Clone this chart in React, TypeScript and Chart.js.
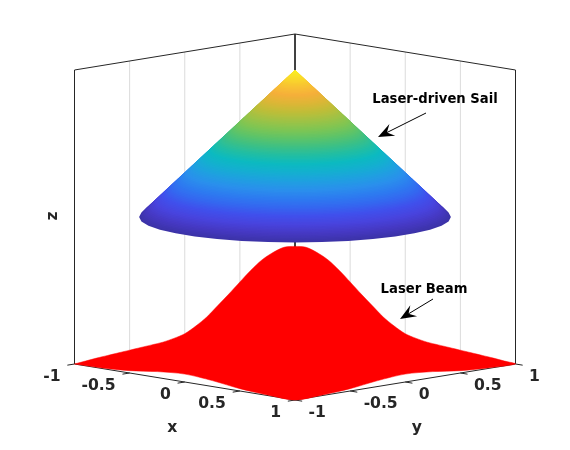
import React, { useEffect, useRef } from "react";
import { Chart, registerables } from "chart.js";

Chart.register(...registerables);

// ---- axis ticks ----
const xTicks = [-1, -0.5, 0, 0.5, 1];
const yTicks = [-1, -0.5, 0, 0.5, 1];
const xGridTicks = [-0.5, 0, 0.5];
const yGridTicks = [-0.5, 0, 0.5];

// ---- laser beam: upper outline, read along the x = y diagonal ----
const beamRidgeAcross = [-2, -1.9, -1.8, -1.7, -1.6, -1.5, -1.4, -1.3, -1.2, -1.1, -1, -0.9, -0.8, -0.7, -0.6, -0.5, -0.4, -0.3, -0.2, -0.1, 0, 0.1, 0.2, 0.3, 0.4, 0.5, 0.6, 0.7, 0.8, 0.9, 1, 1.1, 1.2, 1.3, 1.4, 1.5, 1.6, 1.7, 1.8, 1.9, 2];
const beamRidgeHeight = [0, 0.01, 0.02, 0.029, 0.038, 0.047, 0.056, 0.065, 0.074, 0.087, 0.103, 0.129, 0.16, 0.199, 0.238, 0.279, 0.319, 0.354, 0.379, 0.397, 0.4, 0.397, 0.379, 0.354, 0.319, 0.279, 0.238, 0.199, 0.16, 0.129, 0.103, 0.087, 0.074, 0.065, 0.056, 0.047, 0.038, 0.029, 0.02, 0.01, 0];

// ---- laser beam: height along the two front edges ----
const beamEdgeAlong = [-1, -0.75, -0.5, -0.25, 0, 0.25, 0.5, 0.75, 1];
const beamEdgeHeight = [0, 0.002, 0.008, 0.02, 0.027, 0.02, 0.008, 0.002, 0];

// ---- sail: cone, apex at top and rim at lower height ----
const sailApexZ = 1;
const sailRimZ = 0.5;
const sailRimX = [-0.819, -0.707, -0.574, -0.423, -0.259, -0.087, 0.087, 0.259, 0.423, 0.574, 0.707, 0.819, 0.906, 0.966, 0.996, 0.996, 0.966, 0.906, 0.819, 0.707, 0.574];
const sailRimY = [-0.574, -0.707, -0.819, -0.906, -0.966, -0.996, -0.996, -0.966, -0.906, -0.819, -0.707, -0.574, -0.423, -0.259, -0.087, 0.087, 0.259, 0.423, 0.574, 0.707, 0.819];
const sailLevels = [0, 0.05, 0.1, 0.15, 0.2, 0.25, 0.3, 0.35, 0.4, 0.45, 0.5, 0.55, 0.6, 0.65, 0.7, 0.75, 0.8, 0.85, 0.9, 0.95, 1];
const sailColors = ["#FAF21E", "#F9DC28", "#F8C333", "#F5AF3A", "#DDB636", "#BFBD38", "#A0C245", "#80C552", "#5FC467", "#3FC083", "#22BEA2", "#0CBAC0", "#14AFD0", "#1FA0E0", "#2A90EC", "#2D7CF0", "#3468F0", "#4050EC", "#4844DE", "#4639C4", "#3C33A8"];

const FONT = '"DejaVu Sans"';
const INK = "#262626";
const GRID = "#DBDBDB";
const DEPTH = 18 / 294; // vertical share of the floor in the view
const UNIT = 110.25; // pixels per unit of x + y

type P = { x: number; y: number };
const project = (x: number, y: number, z: number): P => ({ x: x + y, y: z - DEPTH * (x - y) });

const hexToRgb = (h: string) => [1, 3, 5].map((i) => parseInt(h.slice(i, i + 2), 16));
const mix = (a: string, b: string, t: number) => {
  const A = hexToRgb(a);
  const B = hexToRgb(b);
  return `rgb(${A.map((v, i) => Math.round(v + (B[i] - v) * t)).join(",")})`;
};

function line(points: P[], color: string, width = 1) {
  return {
    data: points,
    showLine: true,
    fill: false as any,
    borderColor: color,
    borderWidth: width,
    pointRadius: 0,
    tension: 0,
    borderCapStyle: "butt",
  };
}
function shape(points: P[], color: string, edge = 0.5, tension = 0) {
  return {
    data: points,
    showLine: true,
    fill: "shape" as any,
    backgroundColor: color,
    borderColor: color,
    borderWidth: edge,
    pointRadius: 0,
    tension,
  };
}

function buildDatasets() {
  const list: any[] = [];
  // back walls: grid
  for (const y of yGridTicks) list.push(line([project(-1, y, 0), project(-1, y, 1)], GRID));
  for (const x of xGridTicks) list.push(line([project(x, 1, 0), project(x, 1, 1)], GRID));
  // box
  list.push(line([project(-1, -1, 1), project(-1, -1, 0)], INK));
  list.push(line([project(1, 1, 1), project(1, 1, 0)], INK));
  list.push(line([project(-1, 1, 1), project(-1, 1, 0)], INK));
  list.push(line([project(-1, -1, 1), project(-1, 1, 1), project(1, 1, 1)], INK));
  list.push(line([project(-1, -1, 0), project(1, -1, 0), project(1, 1, 0)], INK));
  // ticks
  for (const x of xTicks) list.push(line([project(x, -1, 0), project(x, -1.065, 0)], INK));
  for (const y of yTicks) list.push(line([project(1, y, 0), project(1.065, y, 0)], INK));
  // beam outline
  const top = beamRidgeAcross.map((h, i) => project(h / 2, h / 2, beamRidgeHeight[i]));
  const rightEdge = beamEdgeAlong.map((a, i) => project(1, -a, beamEdgeHeight[i]));
  const leftEdge = beamEdgeAlong.map((a, i) => project(-a, -1, beamEdgeHeight[i]));
  list.push(shape([...top, ...rightEdge.slice(1), ...leftEdge.slice(1)], "#FF0000", 0.5, 0.3));
  // sail: outer bands first, each band runs from one cut of the cone to a slightly smaller one
  const sub = 6;
  const overlap = 0.04;
  const ringAt = (r: number) => {
    const z = sailApexZ + (sailRimZ - sailApexZ) * r;
    return sailRimX.map((x, i) => project(x * r, sailRimY[i] * r, z));
  };
  for (let s = sailLevels.length - 2; s >= 0; s--) {
    for (let j = sub; j > 0; j--) {
      const t = j / sub;
      const r = sailLevels[s] + (sailLevels[s + 1] - sailLevels[s]) * t;
      const color = mix(sailColors[s], sailColors[s + 1], t);
      const inner = Math.max(0, r - overlap);
      list.push(shape([...ringAt(r), ...ringAt(inner).reverse()], color, 0));
    }
  }
  list.forEach((d, i) => (d.order = list.length - i));
  return list;
}

function arrow(ctx: CanvasRenderingContext2D, x0: number, y0: number, x1: number, y1: number) {
  const a = Math.atan2(y1 - y0, x1 - x0);
  const along = (d: number, w: number) => [x1 - Math.cos(a) * d - Math.sin(a) * w, y1 - Math.sin(a) * d + Math.cos(a) * w];
  ctx.strokeStyle = "#000";
  ctx.fillStyle = "#000";
  ctx.lineWidth = 1;
  ctx.beginPath();
  ctx.moveTo(x0, y0);
  ctx.lineTo(...(along(6, 0) as [number, number]));
  ctx.stroke();
  ctx.beginPath();
  ctx.moveTo(x1, y1);
  ctx.lineTo(...(along(16, 6.5) as [number, number]));
  ctx.lineTo(...(along(10, 0) as [number, number]));
  ctx.lineTo(...(along(16, -6.5) as [number, number]));
  ctx.closePath();
  ctx.fill();
}

const textPlugin = {
  id: "plotText",
  afterDraw(chart: any) {
    const { ctx, scales } = chart;
    const px = (p: P) => [scales.x.getPixelForValue(p.x), scales.y.getPixelForValue(p.y)];
    ctx.save();
    ctx.textBaseline = "middle";
    ctx.fillStyle = INK;
    ctx.font = `bold 15.6px ${FONT}`;
    ctx.textAlign = "right";
    for (const x of xTicks) {
      const [u, v] = px(project(x, -1, 0));
      ctx.fillText(String(x), u - 14, v + 12.5);
    }
    ctx.textAlign = "left";
    for (const y of yTicks) {
      const [u, v] = px(project(1, y, 0));
      ctx.fillText(String(y), u + 13.5, v + 12.5);
    }
    ctx.textAlign = "center";
    const [xu, xv] = px(project(0, -1, 0));
    ctx.fillText("x", xu - 12.5, xv + 45.5);
    const [yu, yv] = px(project(1, 0, 0));
    ctx.fillText("y", yu + 11.5, yv + 45.5);
    const [zu, zv] = px(project(-1, -1, 0.5));
    ctx.save();
    ctx.translate(zu - 22, zv - 1);
    ctx.rotate(-Math.PI / 2);
    ctx.fillText("z", 0, 0);
    ctx.restore();
    ctx.fillStyle = "#000";
    ctx.font = `bold 13.2px ${FONT}`;
    ctx.fillText("Laser-driven Sail", 435, 100);
    ctx.fillText("Laser Beam", 424, 290);
    arrow(ctx, 426, 113, 378, 137);
    arrow(ctx, 433, 299, 400, 319);
    ctx.restore();
  },
};

export default function App() {
  const ref = useRef<HTMLCanvasElement>(null);
  useEffect(() => {
    document.body.style.margin = "0";
    const chart = new Chart(ref.current!, {
      type: "scatter",
      data: { datasets: buildDatasets() },
      options: {
        responsive: false,
        animation: false,
        layout: { padding: 0 },
        plugins: { legend: { display: false }, tooltip: { enabled: false }, title: { display: false } },
        scales: {
          x: { type: "linear", display: false, min: -295 / UNIT, max: 275 / UNIT },
          y: { type: "linear", display: false, min: -86 / 294, max: 364 / 294 },
        },
      },
      plugins: [textPlugin],
    } as any);
    return () => chart.destroy();
  }, []);
  return (
    <div style={{ width: 570, height: 450, background: "#fff" }}>
      <canvas ref={ref} width={570} height={450} style={{ display: "block" }} />
    </div>
  );
}
